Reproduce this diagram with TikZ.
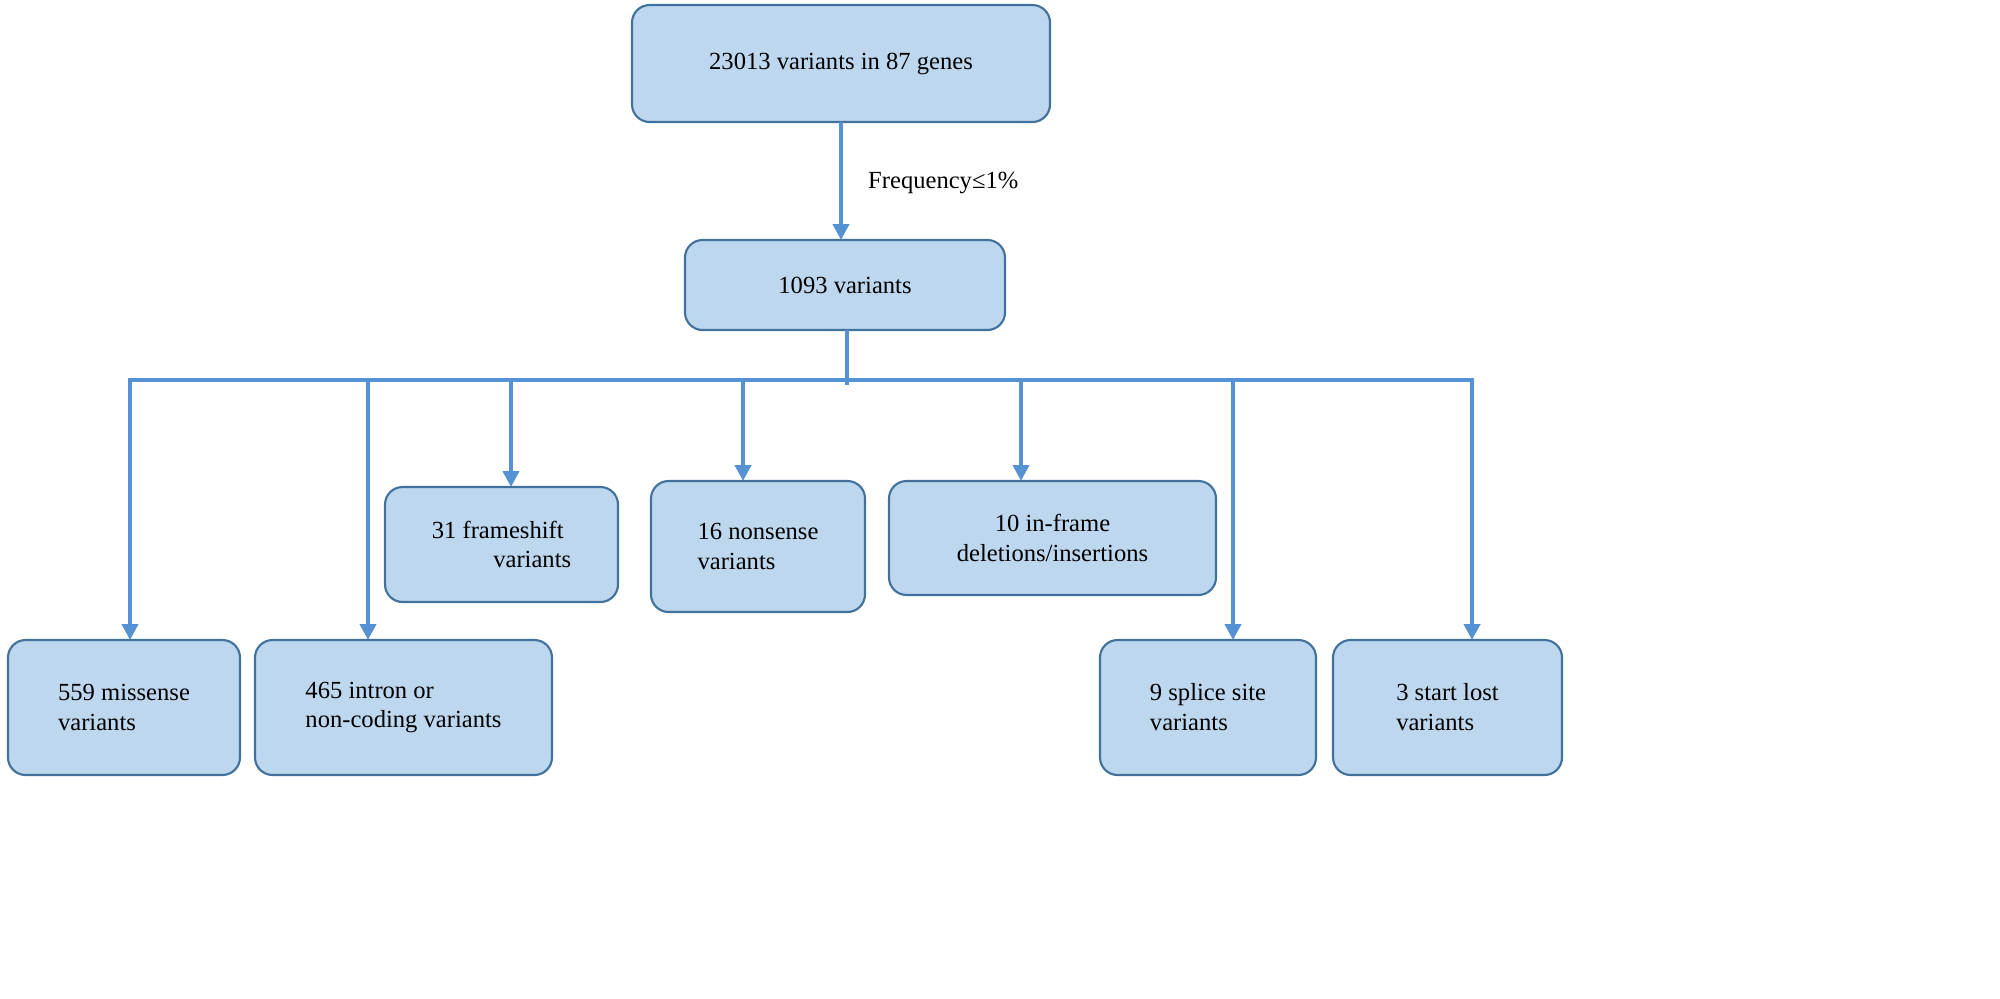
\documentclass[tikz,border=0pt]{standalone}
\usepackage{fontspec}
\setmainfont{Liberation Serif}
\usetikzlibrary{arrows.meta}
\begin{document}
\begin{tikzpicture}[x=0.02cm,y=-0.02cm,
 box/.style={draw={rgb,255:red,65;green,113;blue,156}, fill={rgb,255:red,189;green,215;blue,238}, line width=1.2pt, rounded corners=10pt},
 lbl/.style={font=\fontsize{14}{17}\selectfont, align=left},
 arr/.style={draw={rgb,255:red,84;green,146;blue,212}, line width=2.3pt, -{Triangle[length=9pt,width=9pt]}},
 ln/.style={draw={rgb,255:red,84;green,146;blue,212}, line width=2.3pt}]
\draw[box] (632,5) rectangle (1050,122) node[midway,lbl] (top) {23013 variants in 87 genes};
\draw[box] (685,240) rectangle (1005,330) node[midway,lbl] (mid) {1093 variants};
\draw[box] (8,640) rectangle (240,775) node[midway,lbl] (mis) {559 missense\\variants};
\draw[box] (255,640) rectangle (552,775) node[midway,lbl] (int) {465 intron or\\non-coding variants};
\draw[box] (385,487) rectangle (618,602) node[midway,lbl] (fs) {31 frameshift\\\hspace*{2.5em}variants};
\draw[box] (651,481) rectangle (865,612) node[midway,lbl] (ns) {16 nonsense\\variants};
\draw[box] (889,481) rectangle (1216,595) node[midway,lbl,align=center] (if) {10 in-frame\\deletions/insertions};
\draw[box] (1100,640) rectangle (1316,775) node[midway,lbl] (sp) {9 splice site\\variants};
\draw[box] (1333,640) rectangle (1562,775) node[midway,lbl] (st) {3 start lost\\variants};
\coordinate (a0) at (841,122); \coordinate (a1) at (841,240);
\draw[arr] (a0) -- (a1);
\node[lbl,anchor=west] (freq) at (862,183) {Frequency≤1\%};
\coordinate (m0) at (847,330); \coordinate (m1) at (847,385);
\draw[ln] (m0) -- (m1);
\coordinate (bl) at (128,380); \coordinate (br) at (1474,380);
\draw[ln] (bl) -- (br);
\foreach \x/\y in {130/640,368/640,511/487,743/481,1021/481,1233/640,1472/640}{
 \coordinate (s\x) at (\x,380); \coordinate (e\x) at (\x,\y);
 \draw[arr] (s\x) -- (e\x);}
\pgfresetboundingbox
\path[use as bounding box] (0,0) rectangle (2000,998);
\end{tikzpicture}
\end{document}
